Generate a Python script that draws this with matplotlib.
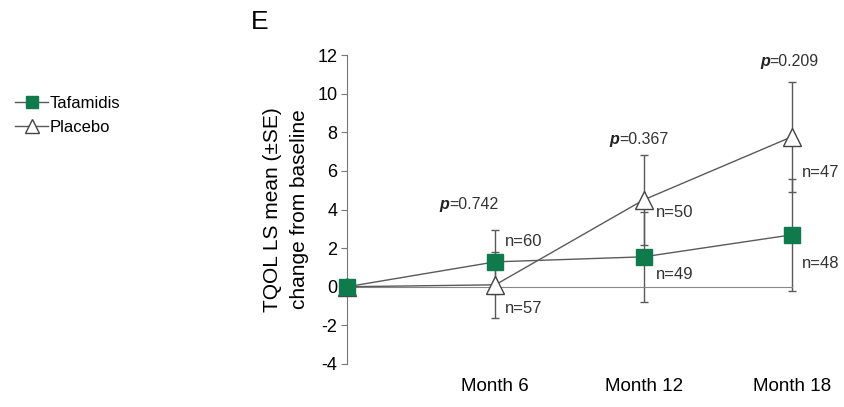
import matplotlib.pyplot as plt
from matplotlib.lines import Line2D

plt.rcParams["font.family"] = ["Liberation Sans", "DejaVu Sans"]

# Visit months (baseline = 0)
months = [0, 6, 12, 18]
month_labels = ["Month 6", "Month 12", "Month 18"]

# LS mean change from baseline and standard errors
tafamidis_mean = [0.0, 1.29, 1.55, 2.69]
tafamidis_se = [0.0, 1.66, 2.33, 2.9]
placebo_mean = [0.0, 0.1, 4.5, 7.77]
placebo_se = [0.0, 1.7, 2.34, 2.85]

tafamidis_n = ["n=60", "n=49", "n=48"]
placebo_n = ["n=57", "n=50", "n=47"]
p_values = ["0.742", "0.367", "0.209"]

green = "#0f7a4c"
line_gray = "#5a5a5a"
txt = "#333333"

fig = plt.figure(figsize=(8.45, 4.07), dpi=100)
ax = fig.add_axes([0.4107, 0.1057, 0.5704, 0.759])

# error bars first, then lines + markers on top
ax.errorbar(months[1:], tafamidis_mean[1:], yerr=tafamidis_se[1:], fmt="none",
            ecolor=line_gray, elinewidth=1.0, capsize=3, capthick=1.0, zorder=2)
ax.errorbar(months[1:], placebo_mean[1:], yerr=placebo_se[1:], fmt="none",
            ecolor=line_gray, elinewidth=1.0, capsize=3, capthick=1.0, zorder=2)

ax.plot(months, placebo_mean, color=line_gray, lw=1.0, marker="^", ms=13,
        mfc="white", mec="#444444", mew=1.0, clip_on=False, zorder=3)
ax.plot(months, tafamidis_mean, color=line_gray, lw=1.0, marker="s", ms=12,
        mfc=green, mec=green, clip_on=False, zorder=4)

ax.set_xlim(0, 19.5)
ax.set_ylim(-4, 12)
ax.set_yticks(range(-4, 13, 2))
ax.set_yticklabels([str(v) for v in range(-4, 13, 2)], fontsize=13)

# x axis sits at zero; month labels pushed down below the plot
ax.spines["bottom"].set_position(("data", 0))
ax.spines["bottom"].set_bounds(0, 18)
ax.spines["bottom"].set_color("#888888")
ax.spines["top"].set_visible(False)
ax.spines["right"].set_visible(False)
ax.spines["left"].set_color("#777777")
ax.set_xticks(months[1:])
ax.set_xticklabels(month_labels, fontsize=13.5)
ax.tick_params(axis="x", direction="inout", length=5, pad=63, color="#777777")
ax.tick_params(axis="y", direction="out", length=4, color="#777777", pad=3)

ax.set_ylabel("TQOL LS mean (\u00b1SE)\nchange from baseline", fontsize=15,
              linespacing=1.5, labelpad=6)

# sample sizes
n_kw = dict(textcoords="offset points", fontsize=12, color=txt)
ax.annotate(tafamidis_n[0], (months[1], tafamidis_mean[1] + tafamidis_se[1]),
            xytext=(7, -12), **n_kw)
ax.annotate(placebo_n[0], (months[1], placebo_mean[1] - placebo_se[1]),
            xytext=(7, 3), **n_kw)
ax.annotate(placebo_n[1], (months[2], placebo_mean[2]),
            xytext=(9, -12), **n_kw)
ax.annotate(tafamidis_n[1], (months[2], tafamidis_mean[2]),
            xytext=(9, -16), **n_kw)
ax.annotate(placebo_n[2], (months[3], placebo_mean[3]),
            xytext=(7, -29), **n_kw)
ax.annotate(tafamidis_n[2], (months[3], tafamidis_mean[3]),
            xytext=(7, -24), **n_kw)

# p-values above the highest error bar at each visit
p_tops = [max(t + ts, p + ps) for t, ts, p, ps in
          zip(tafamidis_mean[1:], tafamidis_se[1:], placebo_mean[1:], placebo_se[1:])]
p_offsets = [(-1.86, 1.3), (-1.0, 0.78), (-0.9, 1.03)]
for m, top, pv, (dx, dy) in zip(months[1:], p_tops, p_values, p_offsets):
    ax.text(m + dx, top + dy, "p", fontsize=11.5, style="italic", weight="bold",
            ha="right", va="center", color="#222222")
    ax.text(m + dx, top + dy, "=" + pv, fontsize=11.5, ha="left", va="center",
            color=txt)

# panel letter
fig.text(0.297, 0.945, "E", fontsize=19, ha="left", va="center")

# legend in the left margin
handles = [
    Line2D([], [], color=line_gray, lw=1.0, marker="s", ms=8, mfc=green, mec=green),
    Line2D([], [], color=line_gray, lw=1.0, marker="^", ms=10, mfc="white", mec="#444444"),
]
fig.legend(handles, ["Tafamidis", "Placebo"], loc="center left",
           bbox_to_anchor=(0.01, 0.717), frameon=False, fontsize=12,
           handlelength=2.0, handletextpad=0.1, labelspacing=0.55, borderaxespad=0.0)

fig.savefig("out.png", dpi=100)
